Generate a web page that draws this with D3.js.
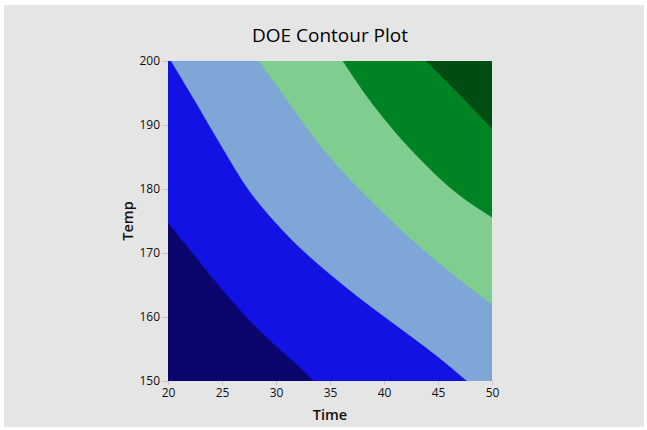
<!DOCTYPE html>
<html>
<head>
<meta charset="utf-8">
<script src="https://cdn.jsdelivr.net/npm/d3@7"></script>
<style>
  body { margin: 0; background: #fff; }
  svg { display: block; font-family: "Open Sans", "Noto Sans", sans-serif; }
</style>
</head>
<body>
<svg id="chart"></svg>
<script>
const width = 647;
const height = 430;
const margin = { top: 61, right: 155, bottom: 49, left: 168 };

// contour boundaries, [time, temp], ordered left -> right
const boundary1 = [[20, 174.8], [22, 170.6], [24, 166.4], [26, 162.4], [28, 158.7], [30, 155.5], [32, 152.5], [33.5, 150]];
const boundary2 = [[20.3, 200], [22.5, 193.8], [25, 186.6], [27.5, 179.8], [30, 174.7], [32.5, 170.4], [35, 166.7], [37.5, 163.3], [40, 160.1], [42.5, 157.0], [45, 153.8], [47.7, 150]];
const boundary3 = [[28.4, 200], [30.5, 195.2], [32.5, 190.4], [35, 185], [37.5, 180.4], [40, 176.2], [42.5, 172.2], [45, 168.6], [47.5, 165.2], [50, 162]];
const boundary4 = [[36.2, 200], [38.5, 194.3], [41, 189], [43.5, 184.4], [46, 180.4], [48, 177.8], [50, 175.6]];
const boundary5 = [[43.9, 200], [46.1, 196.3], [48, 193], [50, 189.5]];
const boundaries = [boundary1, boundary2, boundary3, boundary4, boundary5];

const bandColors = ["#0a066e", "#1212e4", "#7ea7d8", "#80cd90", "#008322", "#004d14"];

const xTicks = [20, 25, 30, 35, 40, 45, 50];
const yTicks = [150, 160, 170, 180, 190, 200];

const svg = d3.select("#chart")
  .attr("width", width)
  .attr("height", height);

svg.append("rect")
  .attr("x", 4).attr("y", 5)
  .attr("width", 640).attr("height", 422)
  .attr("fill", "#e5e5e5");

const x = d3.scaleLinear()
  .domain([20, 50])
  .range([margin.left, width - margin.right]);

const y = d3.scaleLinear()
  .domain([150, 200])
  .range([height - margin.bottom, margin.top]);

svg.append("clipPath")
  .attr("id", "plot-clip")
  .append("rect")
  .attr("x", x(20)).attr("y", y(200))
  .attr("width", x(50) - x(20)).attr("height", y(150) - y(200));

const plot = svg.append("g").attr("clip-path", "url(#plot-clip)");

// lowest band fills the whole area, higher bands are laid on top
plot.append("rect")
  .attr("x", x(20)).attr("y", y(200))
  .attr("width", x(50) - x(20)).attr("height", y(150) - y(200))
  .attr("fill", bandColors[0]);

const curve = d3.line()
  .x(d => x(d[0]))
  .y(d => y(d[1]))
  .curve(d3.curveCatmullRom.alpha(0.5));

// smooth boundary, then close along the plot edges on the upper-right side
function upperRegion(pts) {
  const corners = [];
  const last = pts[pts.length - 1];
  if (last[1] === 150) corners.push([50, 150]);
  corners.push([50, 200]);
  if (pts[0][0] === 20) corners.push([20, 200]);
  return curve(pts) + corners.map(c => `L${x(c[0])},${y(c[1])}`).join("") + "Z";
}

plot.selectAll("path.band")
  .data(boundaries)
  .join("path")
  .attr("class", "band")
  .attr("d", upperRegion)
  .attr("fill", (d, i) => bandColors[i + 1])
  .attr("stroke", (d, i) => bandColors[i + 1])
  .attr("stroke-width", 0.5);

const xAxis = svg.append("g")
  .attr("transform", `translate(0,${y(150)})`)
  .call(d3.axisBottom(x).tickValues(xTicks).tickSize(4).tickPadding(3));

const yAxis = svg.append("g")
  .attr("transform", `translate(${x(20)},0)`)
  .call(d3.axisLeft(y).tickValues(yTicks).tickSize(6).tickPadding(2));

[xAxis, yAxis].forEach(g => {
  g.select(".domain").remove();
  g.selectAll(".tick line").attr("stroke", "#c4c4c4");
  g.selectAll(".tick text")
    .attr("fill", "#111")
    .style("font-size", "12px")
    .style("font-family", "'Open Sans', 'Noto Sans', sans-serif");
});

svg.append("text")
  .attr("x", (x(20) + x(50)) / 2)
  .attr("y", 42)
  .attr("text-anchor", "middle")
  .attr("fill", "#000")
  .style("font-size", "19px")
  .style("font-weight", 500)
  .text("DOE Contour Plot");

svg.append("text")
  .attr("x", (x(20) + x(50)) / 2)
  .attr("y", 420)
  .attr("text-anchor", "middle")
  .attr("fill", "#111")
  .style("font-size", "14.5px")
  .style("font-weight", 600)
  .text("Time");

svg.append("text")
  .attr("transform", `translate(133,${(y(150) + y(200)) / 2}) rotate(-90)`)
  .attr("text-anchor", "middle")
  .attr("fill", "#111")
  .style("font-size", "14.5px")
  .style("font-weight", 600)
  .text("Temp");
</script>
</body>
</html>
